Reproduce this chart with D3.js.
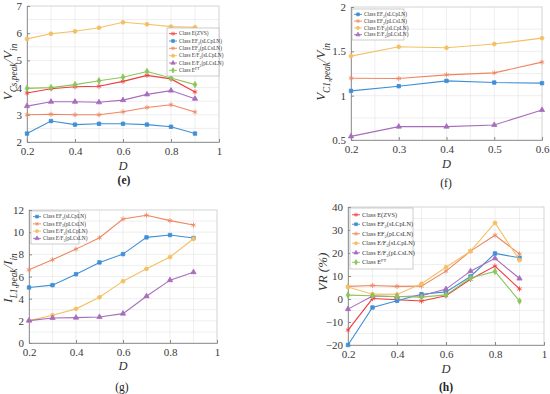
<!DOCTYPE html>
<html>
<head>
<meta charset="utf-8">
<script src="https://cdn.jsdelivr.net/npm/d3@7"></script>
<style>
  body { margin: 0; background: #fff; }
  svg { display: block; font-family: "Liberation Serif", "DejaVu Serif", serif; }
</style>
</head>
<body>
<svg id="mySvg" width="550" height="394"></svg>
<script>
// duty cycle values
var dutyE = [0.2, 0.3, 0.4, 0.5, 0.6, 0.7, 0.8, 0.9];
var dutyF = [0.2, 0.3, 0.4, 0.5, 0.6];

// series names (markup: _{sub} ^{sup})
var nameZVS = "Class E(ZVS)";
var nameEF2s = "Class EF_{2}(sLCpLN)";
var nameEF2p = "Class EF_{2}(pLCsLN)";
var nameEF3s = "Class E/F_{3}(sLCpLN)";
var nameEF3p = "Class E/F_{3}(pLCsLN)";
var nameFT = "Class E^{FT}";

// (e) V_Cs,peak / V_in
var eZVS  = [3.80, 3.96, 4.03, 4.05, 4.23, 4.45, 4.32, 3.84];
var eEF2s = [2.31, 2.77, 2.64, 2.67, 2.67, 2.64, 2.56, 2.31];
var eEF2p = [3.00, 3.02, 3.00, 3.00, 3.11, 3.27, 3.37, 3.10];
var eEF3s = [5.79, 5.98, 6.07, 6.20, 6.40, 6.33, 6.24, 6.22];
var eEF3p = [3.32, 3.48, 3.48, 3.46, 3.54, 3.75, 3.89, 3.59];
var eFT   = [3.97, 4.00, 4.11, 4.25, 4.38, 4.59, 4.35, 4.11];

// (f) V_C1,peak / V_in
var fEF2s = [1.054, 1.107, 1.167, 1.148, 1.141];
var fEF2p = [1.197, 1.193, 1.235, 1.257, 1.378];
var fEF3s = [1.446, 1.551, 1.540, 1.582, 1.649];
var fEF3p = [0.541, 0.651, 0.651, 0.670, 0.839];

// (g) I_L1,peak / I_in
var gEF2s = [5.01, 5.22, 6.21, 7.27, 8.02, 9.53, 9.74, 9.47];
var gEF2p = [6.60, 7.51, 8.47, 9.50, 11.19, 11.52, 11.04, 10.64];
var gEF3s = [2.02, 2.50, 3.08, 4.13, 5.58, 6.69, 7.75, 9.41];
var gEF3p = [2.02, 2.26, 2.29, 2.35, 2.65, 4.22, 5.67, 6.39];

// (h) VR (%)
var hZVS  = [-13.5, 0.2, -0.3, -0.9, 1.4, 8.6, 14.3, 4.4];
var hEF2s = [-20.0, -3.7, -0.8, 2.1, 3.1, 9.8, 19.8, 17.9];
var hEF2p = [5.5, 5.9, 5.5, 5.6, 12.1, 20.8, 27.7, 19.6];
var hEF3s = [5.2, 2.1, 2.0, 6.6, 13.8, 20.8, 33.1, 16.9];
var hEF3p = [-4.4, 1.3, 1.0, 1.4, 4.3, 12.1, 17.7, 8.9];
var hFT   = [1.7, 1.4, 1.1, 0.8, 1.8, 9.1, 12.0, -0.9];

var styles = {
    ZVS:  { color: "#f23b3b", symbol: d3.symbolAsterisk, stroke: true },
    EF2s: { color: "#3f8fd6", symbol: d3.symbolSquare, stroke: false },
    EF2p: { color: "#ee8661", symbol: d3.symbolAsterisk, stroke: true },
    EF3s: { color: "#f5c064", symbol: d3.symbolCircle, stroke: false },
    EF3p: { color: "#a76dbd", symbol: d3.symbolTriangle, stroke: false },
    FT:   { color: "#8cc55c", symbol: d3.symbolDiamond, stroke: false }
};

var svg = d3.select("#mySvg");

// write text with _{..} and ^{..} parts as tspans
function richText(sel, str, size, italic) {
    var parts = str.split(/(_\{[^}]*\}|\^\{[^}]*\})/);
    var shift = 0;
    parts.forEach(function(p) {
        if (p === "") return;
        var t = sel.append("tspan");
        if (italic) t.attr("font-style", "italic");
        var target = 0, txt = p, fs = size;
        if (p[0] === "_") { target = size * 0.35; txt = p.slice(2, -1); fs = size * 0.72; }
        else if (p[0] === "^") { target = -size * 0.4; txt = p.slice(2, -1); fs = size * 0.72; }
        t.attr("dy", target - shift).attr("font-size", fs).text(txt);
        shift = target;
    });
}

function drawPanel(cfg) {
    var x = d3.scaleLinear().domain(cfg.xDomain).range([cfg.left, cfg.right]);
    var y = d3.scaleLinear().domain(cfg.yDomain).range([cfg.bottom, cfg.top]);
    var g = svg.append("g");

    // grid
    g.selectAll(".vgrid").data(cfg.xGrid).enter().append("line")
        .attr("x1", d => x(d)).attr("x2", d => x(d))
        .attr("y1", cfg.top).attr("y2", cfg.bottom)
        .attr("stroke", "#e8e8e8").attr("stroke-width", 0.7);
    g.selectAll(".hgrid").data(cfg.yGrid).enter().append("line")
        .attr("x1", cfg.left).attr("x2", cfg.right)
        .attr("y1", d => y(d)).attr("y2", d => y(d))
        .attr("stroke", "#e8e8e8").attr("stroke-width", 0.7);

    // box
    g.append("rect")
        .attr("x", cfg.left).attr("y", cfg.top)
        .attr("width", cfg.right - cfg.left).attr("height", cfg.bottom - cfg.top)
        .attr("fill", "none").attr("stroke", "#c8c8c8").attr("stroke-width", 0.8);

    var xAxis = d3.axisBottom(x).tickValues(cfg.xTicks).tickSize(-3).tickPadding(5).tickFormat(d3.format("~g"));
    var yAxis = d3.axisLeft(y).tickValues(cfg.yTicks).tickSize(-3).tickPadding(5).tickFormat(d3.format("~g"));

    var gx = g.append("g").attr("transform", "translate(0," + cfg.bottom + ")").call(xAxis);
    var gy = g.append("g").attr("transform", "translate(" + cfg.left + ",0)").call(yAxis);
    [gx, gy].forEach(function(a) {
        a.select(".domain").attr("stroke", "#888").attr("stroke-width", 0.8);
        a.selectAll(".tick line").attr("stroke", "#888");
        a.selectAll(".tick text").attr("fill", "#3a3a3a").attr("font-size", 11)
            .attr("font-family", "Liberation Serif, serif");
    });

    // lines and markers
    cfg.series.forEach(function(s) {
        var st = styles[s.key];
        var pts = cfg.xs.map((d, i) => [d, s.values[i]]);
        g.append("path").datum(pts)
            .attr("fill", "none").attr("stroke", st.color).attr("stroke-width", 1.1)
            .attr("d", d3.line().x(d => x(d[0])).y(d => y(d[1])));
        g.selectAll(null).data(pts).enter().append("path")
            .attr("transform", d => "translate(" + x(d[0]) + "," + y(d[1]) + ")")
            .attr("d", d3.symbol().type(st.symbol).size(st.stroke ? 18 : 12))
            .attr("fill", st.stroke ? "none" : st.color)
            .attr("stroke", st.color).attr("stroke-width", 0.8);
    });

    // legend
    var L = cfg.legend;
    var lg = g.append("g");
    lg.append("rect").attr("x", L.x).attr("y", L.y).attr("width", L.w).attr("height", L.h)
        .attr("fill", "#fff").attr("stroke", "#aaa").attr("stroke-width", 0.6);
    var rowH = (L.h - 4) / cfg.series.length;
    cfg.series.forEach(function(s, i) {
        var st = styles[s.key];
        var cy = L.y + 2 + rowH * (i + 0.5);
        lg.append("line").attr("x1", L.x + 2).attr("x2", L.x + 10).attr("y1", cy).attr("y2", cy)
            .attr("stroke", st.color).attr("stroke-width", 0.9);
        lg.append("path").attr("transform", "translate(" + (L.x + 6) + "," + cy + ")")
            .attr("d", d3.symbol().type(st.symbol).size(st.stroke ? 12 : 8))
            .attr("fill", st.stroke ? "none" : st.color).attr("stroke", st.color).attr("stroke-width", 0.7);
        var t = lg.append("text").attr("x", L.x + 12).attr("y", cy + L.fs * 0.32)
            .attr("fill", "#333").attr("font-size", L.fs);
        richText(t, s.name, L.fs, false);
    });

    // axis labels
    g.append("text").attr("x", (cfg.left + cfg.right) / 2).attr("y", cfg.dY)
        .attr("text-anchor", "middle").attr("font-size", 12.5).attr("font-style", "italic")
        .attr("fill", "#333").text("D");
    var yl = g.append("text")
        .attr("transform", "translate(" + cfg.yLabX + "," + cfg.yLabY + ") rotate(-90)")
        .attr("text-anchor", "middle").attr("fill", "#333").attr("font-size", cfg.yLabFs);
    richText(yl, cfg.yLabel, cfg.yLabFs, true);

    g.append("text").attr("x", cfg.capX).attr("y", cfg.capY)
        .attr("text-anchor", "middle").attr("font-size", 11.5).attr("fill", "#222")
        .attr("font-weight", cfg.capBold ? "bold" : "normal").text(cfg.caption);
}

drawPanel({
    left: 27, right: 219, top: 6, bottom: 142,
    xDomain: [0.2, 1], yDomain: [2, 7],
    xTicks: [0.2, 0.4, 0.6, 0.8, 1], yTicks: [2, 3, 4, 5, 6, 7],
    xGrid: [0.3, 0.4, 0.5, 0.6, 0.7, 0.8, 0.9], yGrid: [2.5, 3, 3.5, 4, 4.5, 5, 5.5, 6, 6.5],
    xs: dutyE,
    series: [
        { key: "ZVS", name: nameZVS, values: eZVS },
        { key: "EF2s", name: nameEF2s, values: eEF2s },
        { key: "EF2p", name: nameEF2p, values: eEF2p },
        { key: "EF3s", name: nameEF3s, values: eEF3s },
        { key: "EF3p", name: nameEF3p, values: eEF3p },
        { key: "FT", name: nameFT, values: eFT }
    ],
    legend: { x: 167, y: 28, w: 52, h: 48, fs: 5.3 },
    yLabel: "V_{Cs,peak}/V_{in}", yLabX: 12, yLabY: 72, yLabFs: 13,
    dY: 170, caption: "(e)", capBold: true, capX: 124, capY: 184
});

drawPanel({
    left: 351, right: 542, top: 7, bottom: 140,
    xDomain: [0.2, 0.6], yDomain: [0.5, 2],
    xTicks: [0.2, 0.3, 0.4, 0.5, 0.6], yTicks: [0.5, 1, 1.5, 2],
    xGrid: [0.25, 0.3, 0.35, 0.4, 0.45, 0.5, 0.55], yGrid: [0.75, 1, 1.25, 1.5, 1.75],
    xs: dutyF,
    series: [
        { key: "EF2s", name: nameEF2s, values: fEF2s },
        { key: "EF2p", name: nameEF2p, values: fEF2p },
        { key: "EF3s", name: nameEF3s, values: fEF3s },
        { key: "EF3p", name: nameEF3p, values: fEF3p }
    ],
    legend: { x: 352, y: 9, w: 52, h: 31, fs: 5.3 },
    yLabel: "V_{C1,peak}/V_{in}", yLabX: 325, yLabY: 72, yLabFs: 13,
    dY: 168, caption: "(f)", capBold: false, capX: 446, capY: 187
});

drawPanel({
    left: 29, right: 217, top: 210, bottom: 343,
    xDomain: [0.2, 1], yDomain: [0, 12],
    xTicks: [0.2, 0.4, 0.6, 0.8, 1], yTicks: [0, 2, 4, 6, 8, 10, 12],
    xGrid: [0.3, 0.4, 0.5, 0.6, 0.7, 0.8, 0.9], yGrid: [1, 2, 3, 4, 5, 6, 7, 8, 9, 10, 11],
    xs: dutyE,
    series: [
        { key: "EF2s", name: nameEF2s, values: gEF2s },
        { key: "EF2p", name: nameEF2p, values: gEF2p },
        { key: "EF3s", name: nameEF3s, values: gEF3s },
        { key: "EF3p", name: nameEF3p, values: gEF3p }
    ],
    legend: { x: 31, y: 211, w: 48, h: 33, fs: 5.3 },
    yLabel: "I_{L1,peak}/I_{in}", yLabX: 12, yLabY: 278, yLabFs: 13,
    dY: 370, caption: "(g)", capBold: false, capX: 122, capY: 391
});

drawPanel({
    left: 348, right: 544, top: 207, bottom: 345,
    xDomain: [0.2, 1], yDomain: [-20, 40],
    xTicks: [0.2, 0.4, 0.6, 0.8, 1], yTicks: [-20, -10, 0, 10, 20, 30, 40],
    xGrid: [0.3, 0.4, 0.5, 0.6, 0.7, 0.8, 0.9], yGrid: [-15, -10, -5, 0, 5, 10, 15, 20, 25, 30, 35],
    xs: dutyE,
    series: [
        { key: "ZVS", name: nameZVS, values: hZVS },
        { key: "EF2s", name: nameEF2s, values: hEF2s },
        { key: "EF2p", name: nameEF2p, values: hEF2p },
        { key: "EF3s", name: nameEF3s, values: hEF3s },
        { key: "EF3p", name: nameEF3p, values: hEF3p },
        { key: "FT", name: nameFT, values: hFT }
    ],
    legend: { x: 350, y: 208, w: 63, h: 61, fs: 6.3 },
    yLabel: "VR (%)", yLabX: 327, yLabY: 272, yLabFs: 13,
    dY: 373, caption: "(h)", capBold: true, capX: 446, capY: 391
});
</script>
</body>
</html>
